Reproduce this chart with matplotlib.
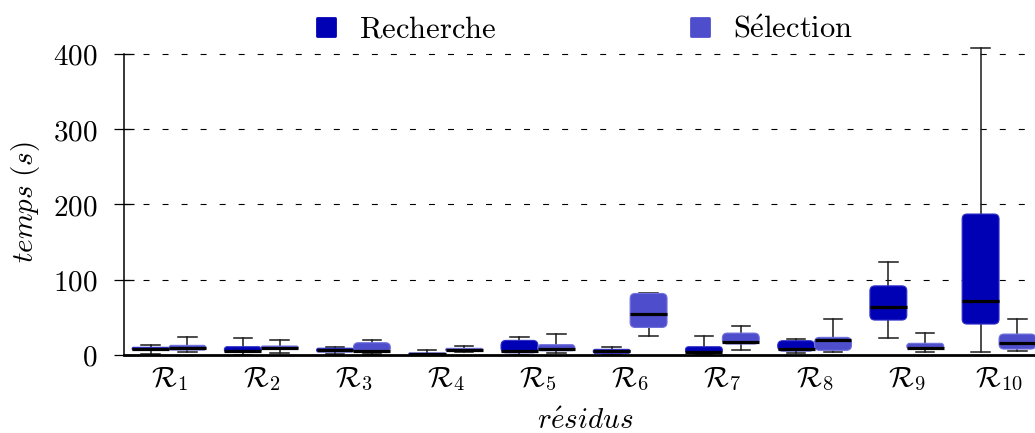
import numpy as np
import matplotlib
matplotlib.use("Agg")
import matplotlib.pyplot as plt
from matplotlib.patches import FancyBboxPatch
from matplotlib.lines import Line2D
from matplotlib.markers import MarkerStyle

plt.rcParams['mathtext.fontset'] = 'cm'
plt.rcParams['lines.scale_dashes'] = False

# box statistics (temps en s)
residus = [r'$\mathcal{R}_{%d}$' % i for i in range(1, 11)]

rech_low = [1.0, 0.5, 1.3, 0.4, 0.5, 0.5, 0.5, 2.2, 22.5, 3.5]
rech_q1 = [6.6, 3.5, 4.0, 0.4, 3.0, 2.2, 2.2, 5.3, 46.4, 41.1]
rech_med = [8.4, 5.7, 6.5, 1.3, 5.3, 5.3, 3.5, 7.5, 63.2, 71.1]
rech_q3 = [10.2, 11.0, 9.0, 2.6, 19.4, 7.5, 11.0, 19.0, 91.8, 187.2]
rech_high = [12.8, 22.5, 10.0, 6.6, 24.3, 11.0, 25.6, 21.6, 123.2, 407.5]

sel_low = [3.5, 2.6, 1.3, 4.0, 3.0, 25.6, 7.1, 3.5, 4.4, 4.9]
sel_q1 = [6.6, 7.5, 3.5, 5.3, 5.7, 36.6, 14.6, 6.2, 7.9, 7.9]
sel_med = [9.7, 9.7, 5.3, 7.0, 7.5, 54.3, 17.2, 19.4, 9.7, 15.9]
sel_q3 = [12.8, 11.9, 16.3, 8.8, 13.7, 81.7, 29.1, 23.4, 15.5, 27.8]
sel_high = [24.3, 19.9, 19.9, 12.4, 27.4, 82.6, 38.8, 48.1, 29.6, 47.3]

c_rech = '#0000B4'
c_sel = '#4E4ECC'
e_rech = '#3030C8'
e_sel = '#7070DD'

fig = plt.figure(figsize=(10.35, 4.33), dpi=100)
ax = fig.add_axes([124 / 1035, 78 / 433, 1 - 124 / 1035, 302 / 433])
ax.set_xlim(0.512, 10.39)
ax.set_ylim(0, 401)

pos = np.arange(1, 11)
width = 0.40
# pixel aspect, used for rounded corners
aspect = (911 / (10.39 - 0.512)) / (302 / 401)
rx = 0.054


def draw(offset, lo, q1, med, q3, hi, color, ecolor):
    stats = [dict(med=m, q1=a, q3=b, whislo=l, whishi=h, fliers=[])
             for l, a, m, b, h in zip(lo, q1, med, q3, hi)]
    arts = ax.bxp(stats, positions=pos + offset, widths=width, showbox=False,
                  capwidths=0.2, manage_ticks=False,
                  whiskerprops=dict(color='#1a1a1a', lw=1.1),
                  capprops=dict(color='#1a1a1a', lw=1.1),
                  medianprops=dict(color='black', lw=2.3, solid_capstyle='butt'))
    for key in ('whiskers', 'caps', 'medians'):
        for a in arts[key]:
            a.set_clip_on(False)
    for a in arts['whiskers'] + arts['caps']:
        a.set_zorder(2.5)
    for a in arts['medians']:
        a.set_zorder(4)
    for x, a, b in zip(pos + offset, q1, q3):
        h = b - a
        r = min(rx, 0.5 * h / aspect, width / 2)
        p = FancyBboxPatch((x - width / 2, a), width, h,
                           boxstyle="round,pad=0,rounding_size=%f" % r,
                           mutation_aspect=aspect, facecolor=color,
                           edgecolor=ecolor, lw=0.8, zorder=3, clip_on=False)
        ax.add_patch(p)


draw(-0.2, rech_low, rech_q1, rech_med, rech_q3, rech_high, c_rech, e_rech)
draw(0.2, sel_low, sel_q1, sel_med, sel_q3, sel_high, c_sel, e_sel)

ax.set_xticks(pos)
ax.set_xticklabels(residus, fontsize=21)
ax.tick_params(axis='x', length=0, pad=7)
yt = [0, 100, 200, 300, 400]
ax.set_yticks(yt)
ax.set_yticklabels([r'$%d$' % v for v in yt], fontsize=21)
ax.tick_params(axis='y', direction='inout', length=14.5, width=0.9, pad=12)

for v in yt[1:]:
    ax.axhline(v, color='black', lw=0.8, dashes=(4.3, 9.4), zorder=1)

for s in ('top', 'right'):
    ax.spines[s].set_visible(False)
ax.spines['left'].set_linewidth(1.1)
ax.spines['left'].set_bounds(0, 400)
ax.spines['bottom'].set_linewidth(2.0)
ax.spines['bottom'].set_zorder(5)

fig.text(26 / 1035, 1 - 202 / 433, r'$\mathit{temps\ (s)}$', fontsize=21,
         rotation=90, ha='center', va='center')
fig.text(585 / 1035, 1 - 421 / 433, r'$\mathit{r\acute{e}sidus}$', fontsize=21,
         ha='center', va='center')

mk = MarkerStyle('s', joinstyle='round')
handles = [Line2D([], [], ls='none', marker=mk, markersize=13.5, markerfacecolor=c_rech,
                  markeredgecolor=c_rech, markeredgewidth=2),
           Line2D([], [], ls='none', marker=mk, markersize=13.5, markerfacecolor=c_sel,
                  markeredgecolor=c_sel, markeredgewidth=2)]
fig.legend(handles, [r'$\mathrm{Recherche}$', r'$\mathrm{S\acute{e}lection}$'],
           loc='center', bbox_to_anchor=(584 / 1035, 1 - 29 / 433), ncol=2,
           frameon=False, fontsize=22, handlelength=0.72, handletextpad=0.72,
           columnspacing=6.3, borderpad=0, borderaxespad=0)

fig.savefig('out.png', dpi=100)
